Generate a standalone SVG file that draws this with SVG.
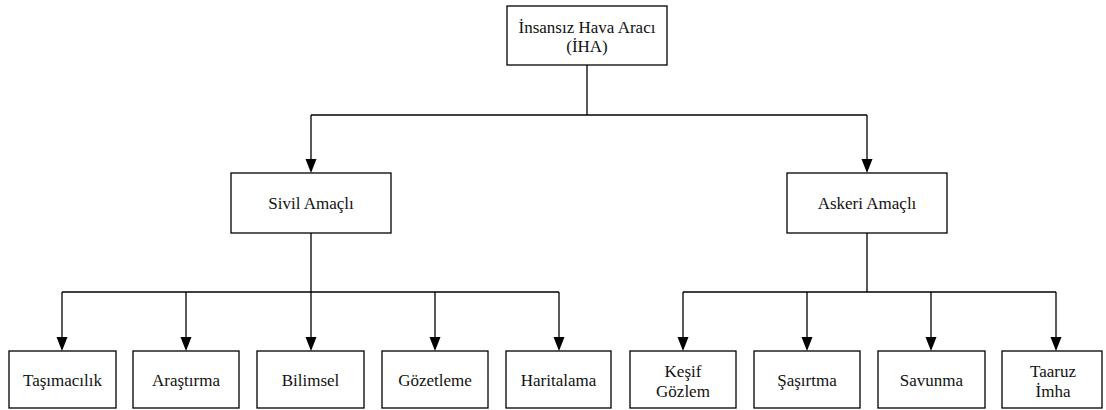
<svg xmlns="http://www.w3.org/2000/svg" width="1106" height="410" viewBox="0 0 1106 410">
  <defs>
    <style>
      .box { fill: #fff; stroke: #000; stroke-width: 1.3; }
      .label { font-family: 'Liberation Serif', 'DejaVu Serif', serif; font-size: 17px; fill: #111; text-anchor: middle; }
      .conn { fill: none; stroke: #000; stroke-width: 1.3; }
      .head { fill: #000; stroke: none; }
    </style>
  </defs>
  <rect width="1106" height="410" fill="#fff"/>

  <!-- connectors: trunk lines, bus lines and drop lines with arrowheads -->
  <g id="connectors">
    <path class="conn" d="M587,65 V115"/>
    <path class="conn" d="M311,115 H867"/>
    <path class="conn" d="M311,233 V292"/>
    <path class="conn" d="M62,292 H559"/>
    <path class="conn" d="M867,233 V292"/>
    <path class="conn" d="M683,292 H1056"/>

    <path class="conn" d="M311,115 V160"/><path class="head" d="M305.5,159 L316.5,159 L311,173 Z"/>
    <path class="conn" d="M867,115 V160"/><path class="head" d="M861.5,159 L872.5,159 L867,173 Z"/>
    <path class="conn" d="M62,292 V338"/><path class="head" d="M56.5,337 L67.5,337 L62,351 Z"/>
    <path class="conn" d="M186,292 V338"/><path class="head" d="M180.5,337 L191.5,337 L186,351 Z"/>
    <path class="conn" d="M311,292 V338"/><path class="head" d="M305.5,337 L316.5,337 L311,351 Z"/>
    <path class="conn" d="M435,292 V338"/><path class="head" d="M429.5,337 L440.5,337 L435,351 Z"/>
    <path class="conn" d="M559,292 V338"/><path class="head" d="M553.5,337 L564.5,337 L559,351 Z"/>
    <path class="conn" d="M683,292 V338"/><path class="head" d="M677.5,337 L688.5,337 L683,351 Z"/>
    <path class="conn" d="M807,292 V338"/><path class="head" d="M801.5,337 L812.5,337 L807,351 Z"/>
    <path class="conn" d="M931,292 V338"/><path class="head" d="M925.5,337 L936.5,337 L931,351 Z"/>
    <path class="conn" d="M1056,292 V338"/><path class="head" d="M1050.5,337 L1061.5,337 L1056,351 Z"/>
  </g>

  <!-- root -->
  <g id="iha">
    <rect class="box" x="507" y="6" width="160" height="59"/>
    <text class="label" x="587" y="33">İnsansız Hava Aracı</text>
    <text class="label" x="587" y="52">(İHA)</text>
  </g>

  <!-- second level -->
  <g id="sivil">
    <rect class="box" x="231" y="173" width="160" height="60"/>
    <text class="label" x="311" y="209">Sivil Amaçlı</text>
  </g>
  <g id="askeri">
    <rect class="box" x="787" y="173" width="160" height="60"/>
    <text class="label" x="867" y="209">Askeri Amaçlı</text>
  </g>

  <!-- leaves -->
  <g id="tasimacilik">
    <rect class="box" x="9" y="351" width="107" height="57"/>
    <text class="label" x="62.5" y="386">Taşımacılık</text>
  </g>
  <g id="arastirma">
    <rect class="box" x="133" y="351" width="106" height="57"/>
    <text class="label" x="186" y="386">Araştırma</text>
  </g>
  <g id="bilimsel">
    <rect class="box" x="257" y="351" width="107" height="57"/>
    <text class="label" x="310.5" y="386">Bilimsel</text>
  </g>
  <g id="gozetleme">
    <rect class="box" x="382" y="351" width="106" height="57"/>
    <text class="label" x="435" y="386">Gözetleme</text>
  </g>
  <g id="haritalama">
    <rect class="box" x="506" y="351" width="105" height="57"/>
    <text class="label" x="558.5" y="386">Haritalama</text>
  </g>
  <g id="kesif">
    <rect class="box" x="630" y="351" width="106" height="57"/>
    <text class="label" x="683" y="377">Keşif</text>
    <text class="label" x="683" y="397">Gözlem</text>
  </g>
  <g id="sasirtma">
    <rect class="box" x="754" y="351" width="106" height="57"/>
    <text class="label" x="807" y="386">Şaşırtma</text>
  </g>
  <g id="savunma">
    <rect class="box" x="878" y="351" width="107" height="57"/>
    <text class="label" x="931.5" y="386">Savunma</text>
  </g>
  <g id="taaruz">
    <rect class="box" x="1002" y="351" width="100" height="57"/>
    <text class="label" x="1053" y="377">Taaruz</text>
    <text class="label" x="1053" y="397">İmha</text>
  </g>
</svg>
